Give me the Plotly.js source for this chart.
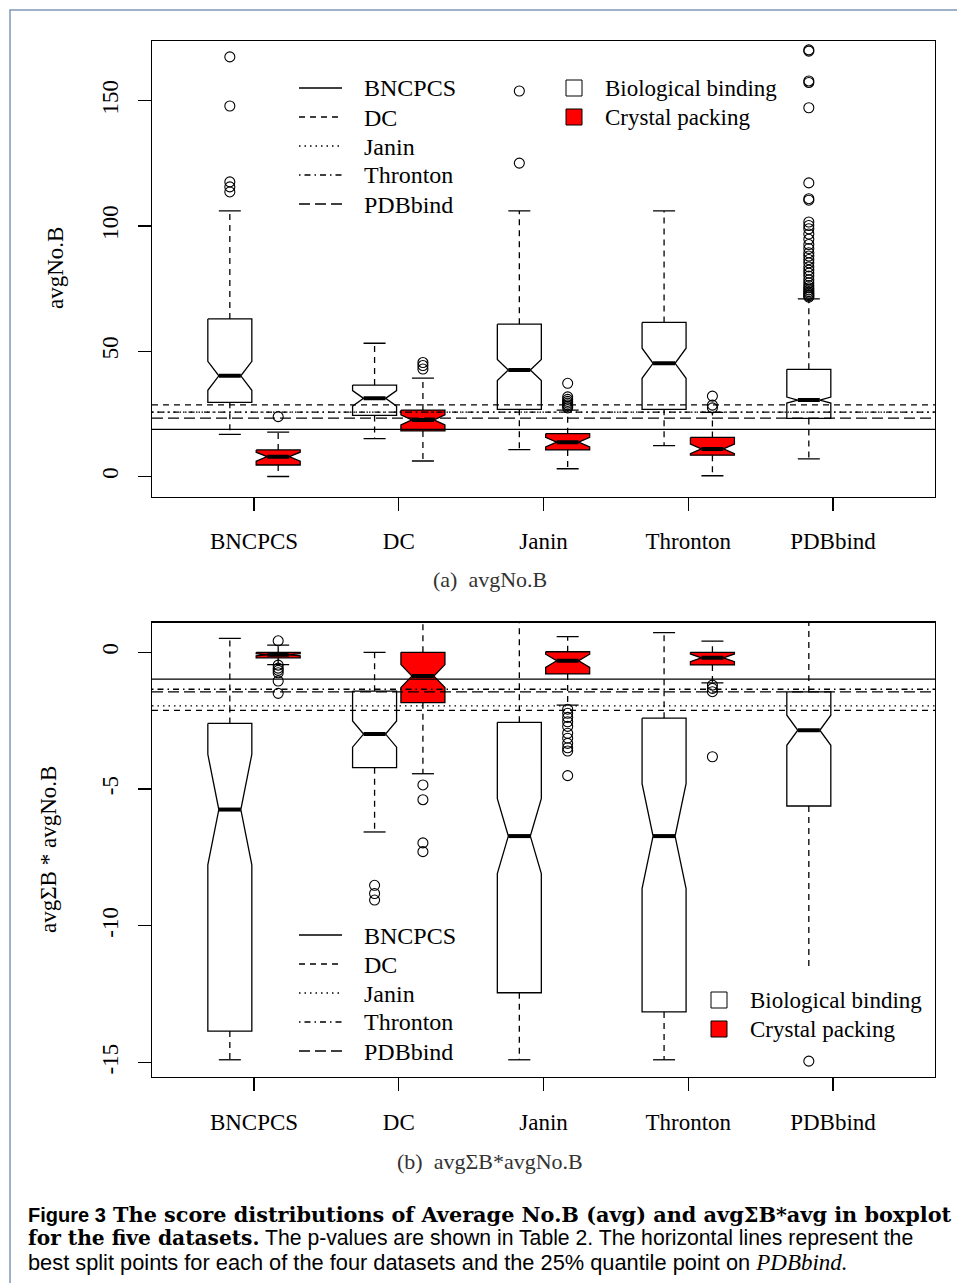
<!DOCTYPE html>
<html><head><meta charset="utf-8">
<script src="https://cdn.plot.ly/plotly-3.0.1.min.js"></script>
<style>html,body{margin:0;padding:0;background:#fff;}#chart{width:957px;height:1283px;}</style>
</head><body><div id="chart"></div>
<script>
// ---------------- data ----------------
const categories = ["BNCPCS", "DC", "Janin", "Thronton", "PDBbind"];
const splitNames = ["BNCPCS", "DC", "Janin", "Thronton", "PDBbind"];
const groupNames = ["Biological binding", "Crystal packing"];

// panel (a): avgNo.B
const aTickVals = [0, 50, 100, 150];
const aTickText = ["0", "50", "100", "150"];
const aBioQ1 = [29.6, 24.4, 26.8, 26.8, 23.2];
const aBioMed = [40.2, 31.2, 42.5, 45.2, 30.5];
const aBioQ3 = [62.9, 36.5, 60.8, 61.5, 42.8];
const aBioNotch = [5.8, 3.1, 4.2, 6.0, 1.2];
const aBioLo = [16.8, 15.1, 10.7, 12.3, 7.0];
const aBioHi = [106, 53.2, 106, 106, 70.9];
const aBioStaple = [1, 1, 1, 1, 1];
const aBioOut = [
  [167.5, 147.9, 117.6, 115.6, 113.6],
  [],
  [153.9, 125.1],
  [],
  [170.3, 169.8, 157.9, 157.3, 147.2, 117.2, 110.9, 110.3, 101.6, 100.2, 98.9, 96.8, 94.7, 92.6, 91.0, 89.3, 88.0, 86.6, 85.3, 83.7, 82.4, 81.2, 80.0, 78.5, 77.3, 76.2, 75.3, 74.5, 73.8, 73.2, 72.6, 72.1, 71.6]
];
const aCryQ1 = [4.6, 18.2, 10.6, 8.5];
const aCryMed = [7.9, 22.6, 13.7, 11.0];
const aCryQ3 = [10.6, 26.5, 17.1, 15.6];
const aCryNotch = [1.8, 2.0, 1.9, 1.9];
const aCryLo = [0.0, 6.2, 3.1, 0.3];
const aCryHi = [17.7, 39.3, 26.5, 25.6];
const aCryStaple = [1, 1, 1, 1];
const aCryOut = [
  [23.9],
  [45.5, 44.3, 42.9],
  [37.2, 31.8, 30.8, 30.0, 29.3, 28.6, 28.0, 27.4],
  [32.1, 28.5, 27.4]
];
const aSplit = [18.8, 28.6, 25.7, 25.7, 23.3];

// panel (b): avgSigmaB * avgNo.B
const bTickVals = [0, -5, -10, -15];
const bTickText = ["0", "-5", "-10", "-15"];
const bBioQ1 = [-13.85, -4.22, -12.45, -13.15, -5.62];
const bBioMed = [-5.75, -2.99, -6.72, -6.72, -2.85];
const bBioQ3 = [-2.6, -1.42, -2.56, -2.41, -1.45];
const bBioNotch = [2.02, 0.48, 1.37, 1.92, 0.55];
const bBioLo = [-14.9, -6.57, -14.9, -14.9, -11.6];
const bBioHi = [0.51, 0.0, 1.6, 0.72, 1.6];
const bBioStaple = [1, 1, 1, 1, 0];
const bBioOut = [
  [],
  [-8.52, -8.82, -9.06],
  [],
  [],
  [-14.95]
];
const bCryQ1 = [-0.2, -1.84, -0.79, -0.46];
const bCryMed = [-0.09, -0.87, -0.31, -0.2];
const bCryQ3 = [0.0, 0.0, 0.02, 0.0];
const bCryNotch = [0.04, 0.42, 0.24, 0.14];
const bCryLo = [-0.45, -4.44, -1.93, -1.12];
const bCryHi = [0.26, 1.6, 0.57, 0.41];
const bCryStaple = [1, 1, 1, 1];
const bCryOut = [
  [0.42, -0.47, -0.58, -0.66, -0.75, -1.05, -1.5],
  [-4.85, -5.39, -6.97, -7.29],
  [-2.08, -2.23, -2.38, -2.54, -2.71, -2.96, -3.14, -3.33, -3.49, -3.61, -4.51],
  [-1.2, -1.32, -1.44, -3.82]
];
const bSplit = [-0.98, -2.12, -1.96, -1.35, -1.45];

// ---------------- styling / layout constants ----------------
const W = 957, H = 1283;
const px = v => v / W, py = v => 1 - v / H;
const SERIF = "Liberation Serif, Times New Roman, serif";
const RED = "#ff0000";
const HW = 0.152, NW = HW / 2, SW = HW / 2, OFF = 0.167;
const LW = 1.3;
const splitDash = ["solid", "6px,5px", "1.5px,4px", "1.5px,4px,6px,4px", "11px,5px"];

function boxTraces(pos, q1, med, q3, notch, lo, hi, staple, outl, fillColor, xa, ya) {
  const bx = [], by = [], mx = [], my = [], wx = [], wy = [], sx = [], sy = [], ox = [], oy = [];
  for (let i = 0; i < q1.length; i++) {
    const c = pos[i], nu = med[i] + notch[i], nl = med[i] - notch[i];
    bx.push(c - HW, c + HW, c + HW, c + NW, c + HW, c + HW, c - HW, c - HW, c - NW, c - HW, c - HW, null);
    by.push(q3[i], q3[i], nu, med[i], nl, q1[i], q1[i], nl, med[i], nu, q3[i], null);
    mx.push(c - NW, c + NW, null); my.push(med[i], med[i], null);
    wx.push(c, c, null, c, c, null); wy.push(q3[i], hi[i], null, q1[i], lo[i], null);
    sx.push(c - SW, c + SW, null); sy.push(hi[i], hi[i], null);
    if (staple[i]) { sx.push(c - SW, c + SW, null); sy.push(lo[i], lo[i], null); }
    outl[i].forEach(v => { ox.push(c); oy.push(v); });
  }
  const common = {xaxis: xa, yaxis: ya, showlegend: false, hoverinfo: "skip", type: "scatter"};
  return [
    {...common, x: wx, y: wy, mode: "lines", line: {color: "#000", width: LW, dash: "6px,5px"}},
    {...common, x: sx, y: sy, mode: "lines", line: {color: "#000", width: LW}},
    {...common, x: bx, y: by, mode: "lines", fill: "toself", fillcolor: fillColor, line: {color: "#000", width: LW}},
    {...common, x: mx, y: my, mode: "lines", line: {color: "#000", width: 4}},
    {...common, x: ox, y: oy, mode: "markers", marker: {symbol: "circle-open", size: 10, color: "#000", line: {width: 1.1}}}
  ];
}

const bioPos = categories.map((_, i) => i + 1 - OFF);
const cryPos = categories.slice(0, 4).map((_, i) => i + 1 + OFF);

const traces = [
  ...boxTraces(bioPos, aBioQ1, aBioMed, aBioQ3, aBioNotch, aBioLo, aBioHi, aBioStaple, aBioOut, "#ffffff", "x", "y"),
  ...boxTraces(cryPos, aCryQ1, aCryMed, aCryQ3, aCryNotch, aCryLo, aCryHi, aCryStaple, aCryOut, RED, "x", "y"),
  ...boxTraces(bioPos, bBioQ1, bBioMed, bBioQ3, bBioNotch, bBioLo, bBioHi, bBioStaple, bBioOut, "#ffffff", "x2", "y2"),
  ...boxTraces(cryPos, bCryQ1, bCryMed, bCryQ3, bCryNotch, bCryLo, bCryHi, bCryStaple, bCryOut, RED, "x2", "y2")
];

const axisCommon = {
  showline: true, linecolor: "#000", linewidth: LW, mirror: true,
  ticks: "outside", ticklen: 13, tickwidth: LW, tickcolor: "#000",
  showgrid: false, zeroline: false, fixedrange: true,
  tickfont: {family: SERIF, size: 23, color: "#000"}
};
const xTicks = categories.map((_, i) => i + 1);
const xRange = [0.2953, 5.7047];

const shapes = [];
const annotations = [];
// split lines
[["y", aSplit], ["y2", bSplit]].forEach(([yr, arr]) => {
  arr.forEach((v, i) => shapes.push({type: "line", xref: (yr === "y" ? "x" : "x2") + " domain", x0: 0, x1: 1,
    yref: yr, y0: v, y1: v, line: {color: "#000", width: LW, dash: splitDash[i]}}));
});

// legends (manual, R style)
function lineLegend(x0, yTop, step) {
  splitNames.forEach((n, i) => {
    const yy = yTop + i * step;
    shapes.push({type: "line", xref: "paper", yref: "paper", x0: px(x0), x1: px(x0 + 43), y0: py(yy), y1: py(yy),
      line: {color: "#000", width: LW, dash: splitDash[i]}});
    annotations.push({xref: "paper", yref: "paper", x: px(x0 + 63), y: py(yy + 0.5), xanchor: "left", yanchor: "middle",
      text: n, showarrow: false, font: {family: SERIF, size: 24, color: "#000"}});
  });
}
function fillLegend(xc, yTop, step) {
  [["#ffffff", groupNames[0]], [RED, groupNames[1]]].forEach(([col, n], i) => {
    const yy = yTop + i * step;
    shapes.push({type: "rect", xref: "paper", yref: "paper", x0: px(xc - 8), x1: px(xc + 8), y0: py(yy - 8), y1: py(yy + 8),
      fillcolor: col, line: {color: "#000", width: 1}});
    annotations.push({xref: "paper", yref: "paper", x: px(xc + 29), y: py(yy + 0.5), xanchor: "left", yanchor: "middle",
      text: n, showarrow: false, font: {family: SERIF, size: 23, color: "#000"}});
  });
}
lineLegend(299, 88, 29);
fillLegend(574, 88, 29);
lineLegend(299, 935, 29);
fillLegend(719, 1000, 29);

// axis titles and panel captions
annotations.push({xref: "paper", yref: "paper", x: px(55), y: py(268), text: "avgNo.B", textangle: -90, showarrow: false,
  xanchor: "center", yanchor: "middle", font: {family: SERIF, size: 23, color: "#000"}});
annotations.push({xref: "paper", yref: "paper", x: px(48), y: py(850), text: "avgΣB * avgNo.B", textangle: -90, showarrow: false,
  xanchor: "center", yanchor: "middle", font: {family: SERIF, size: 23, color: "#000"}});
annotations.push({xref: "paper", yref: "paper", x: px(490), y: py(580), text: "(a)  avgNo.B", showarrow: false,
  xanchor: "center", yanchor: "middle", font: {family: SERIF, size: 22, color: "#333"}});
annotations.push({xref: "paper", yref: "paper", x: px(490), y: py(1161), text: "(b)  avgΣB*avgNo.B", showarrow: false,
  xanchor: "center", yanchor: "middle", font: {family: SERIF, size: 22, color: "#333"}});

// figure caption
const SANS = "Liberation Sans, Arial, sans-serif";
const BSERIF = "DejaVu Serif, serif";
annotations.push({xref: "paper", yref: "paper", x: px(26), y: py(1214), xanchor: "left", yanchor: "middle", showarrow: false,
  text: "<span style='font-family:" + SANS + ";font-size:20px'><b>Figure 3</b></span><b> The score distributions of Average No.B (avg) and avgΣB*avg in boxplot</b>",
  font: {family: BSERIF, size: 20.8, color: "#000"}});
annotations.push({xref: "paper", yref: "paper", x: px(26), y: py(1238), xanchor: "left", yanchor: "middle", showarrow: false,
  text: "<b>for the five datasets.</b><span style='font-family:" + SANS + ";font-size:21.2px'> The p-values are shown in Table 2. The horizontal lines represent the</span>",
  font: {family: BSERIF, size: 20.2, color: "#000"}});
annotations.push({xref: "paper", yref: "paper", x: px(26), y: py(1262), xanchor: "left", yanchor: "middle", showarrow: false,
  text: "best split points for each of the four datasets and the 25% quantile point on <span style='font-family:" + SERIF + ";font-size:23px'><i>PDBbind.</i></span>",
  font: {family: SANS, size: 21.8, color: "#000"}});

// outer frame
shapes.push({type: "rect", xref: "paper", yref: "paper", x0: px(10), x1: px(975), y0: py(1300), y1: py(10),
  line: {color: "#8096b8", width: 1.5}, fillcolor: "rgba(0,0,0,0)", layer: "below"});

const layout = {
  width: W, height: H, margin: {l: 0, r: 0, t: 0, b: 0},
  paper_bgcolor: "#fff", plot_bgcolor: "#fff", showlegend: false,
  xaxis: {...axisCommon, domain: [px(152), px(935)], range: xRange, tickvals: xTicks, ticktext: categories, anchor: "y", ticklabelstandoff: 11},
  yaxis: {...axisCommon, domain: [py(496.5), py(41)], range: [-7.98, 173.85], tickvals: aTickVals, ticktext: aTickText, tickangle: -90, anchor: "x", ticklabelstandoff: 11},
  xaxis2: {...axisCommon, domain: [px(152), px(935)], range: xRange, tickvals: xTicks, ticktext: categories, anchor: "y2", ticklabelstandoff: 11},
  yaxis2: {...axisCommon, domain: [py(1077), py(622.5)], range: [-15.53, 1.09], tickvals: bTickVals, ticktext: bTickText, tickangle: -90, anchor: "x2", ticklabelstandoff: 11},
  shapes: shapes, annotations: annotations
};

Plotly.newPlot("chart", traces, layout, {displayModeBar: false, staticPlot: true});
</script></body></html>
